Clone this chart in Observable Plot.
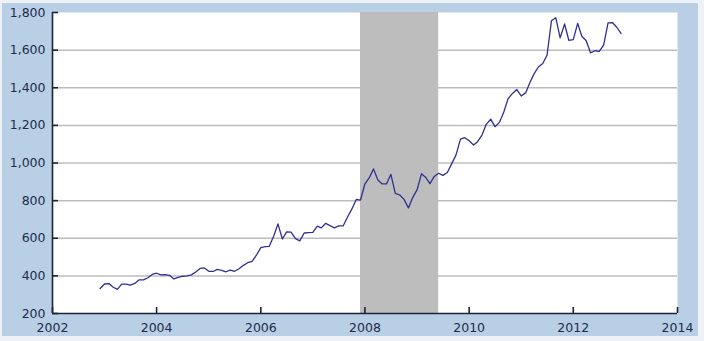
<!DOCTYPE html>
<html>
<head>
<meta charset="utf-8">
<script src="https://cdn.jsdelivr.net/npm/d3@7"></script>
<script src="https://cdn.jsdelivr.net/npm/@observablehq/plot@0.6"></script>
<style>
  html, body { margin: 0; padding: 0; background: #eef1f5; }
  #wrap { position: absolute; left: 2px; top: 3px; width: 696px; height: 333px; background: #b8cfe6; }
  #wrap svg { display: block; }
</style>
</head>
<body>
<div id="wrap"></div>
<script>
// Monthly values, Dec 2002 .. Dec 2012
const startMonth = "2002-12";
const values = [
  333.0,
  356.9, 359.0, 340.6, 328.2, 355.7, 356.4, 351.0, 359.8, 378.9, 378.9, 389.9, 407.6,
  414.0, 405.3, 406.7, 403.0, 383.5, 392.0, 398.1, 400.5, 405.3, 420.5, 439.4, 442.1,
  424.0, 423.4, 434.2, 428.9, 421.9, 430.7, 424.5, 437.9, 456.0, 469.9, 476.7, 509.8,
  549.9, 555.0, 557.1, 610.6, 676.5, 596.2, 633.8, 632.6, 598.2, 585.8, 627.8, 629.8,
  631.2, 664.8, 654.9, 679.4, 666.9, 655.5, 665.3, 665.4, 712.7, 754.6, 806.3, 803.2,
  889.6, 922.3, 968.4, 909.7, 888.7, 889.5, 939.8, 839.0, 829.9, 806.6, 760.9, 816.1,
  858.7, 943.2, 924.3, 890.2, 928.6, 945.7, 934.2, 949.4, 996.6, 1043.2, 1127.0, 1134.7,
  1118.0, 1095.4, 1113.3, 1148.7, 1205.4, 1232.9, 1193.0, 1215.8, 1271.0, 1342.0, 1369.9, 1390.6,
  1356.4, 1372.7, 1424.0, 1473.8, 1510.4, 1528.7, 1572.8, 1755.8, 1771.9, 1665.2, 1739.0, 1652.3,
  1656.1, 1742.1, 1673.8, 1650.1, 1585.5, 1596.7, 1593.9, 1626.0, 1744.5, 1746.6, 1721.6, 1688.5
];
const recessionStart = "2007-12";
const recessionEnd = "2009-06";
const yTicks = [200, 400, 600, 800, 1000, 1200, 1400, 1600, 1800];
const xTickYears = [2002, 2004, 2006, 2008, 2010, 2012, 2014];

const parseMonth = d3.utcParse("%Y-%m");
const t0 = parseMonth(startMonth);
const data = values.map((v, i) => ({date: d3.utcMonth.offset(t0, i), value: v}));
const recession = [{start: parseMonth(recessionStart), end: parseMonth(recessionEnd)}];
const xTicks = xTickYears.map(y => new Date(Date.UTC(y, 0, 1)));

const W = 696, H = 333, mL = 50, mR = 21, mT = 9, mB = 23;
const innerW = W - mL - mR, innerH = H - mT - mB;
const axisColor = "#1c2433";
const textColor = "#1e2c4a";

const chart = Plot.plot({
  width: W, height: H,
  marginLeft: mL, marginRight: mR, marginTop: mT, marginBottom: mB,
  style: {background: "transparent", fontFamily: "'DejaVu Sans', Verdana, sans-serif", fontSize: "12.5px", color: textColor},
  x: {type: "utc", domain: [xTicks[0], xTicks[xTicks.length - 1]], label: null},
  y: {domain: [yTicks[0], yTicks[yTicks.length - 1]], label: null},
  marks: [
    Plot.frame({fill: "white", stroke: "none"}),
    Plot.gridY(yTicks.slice(1, -1), {stroke: "#bcbcbc", strokeOpacity: 1, strokeWidth: 1.5}),
    Plot.rect(recession, {x1: "start", x2: "end", fill: "#bdbdbd"}),
    Plot.line(data, {x: "date", y: "value", stroke: "#2f2f94", strokeWidth: 1.3}),
    Plot.ruleY([yTicks[0]], {stroke: axisColor, strokeWidth: 1.6}),
    Plot.ruleX([xTicks[0]], {stroke: axisColor, strokeWidth: 1.6}),
    Plot.ruleY(yTicks, {stroke: axisColor, strokeWidth: 1.6, insetRight: innerW - 6}),
    Plot.ruleX(xTicks, {stroke: axisColor, strokeWidth: 1.6, insetTop: innerH - 6}),
    Plot.axisY(yTicks, {tickSize: 0, tickPadding: 7, tickFormat: d3.format(","), label: null, fill: textColor}),
    Plot.axisX(xTicks, {tickSize: 0, tickPadding: 10, tickFormat: d3.utcFormat("%Y"), label: null, fill: textColor})
  ]
});
document.getElementById("wrap").appendChild(chart);
</script>
</body>
</html>
